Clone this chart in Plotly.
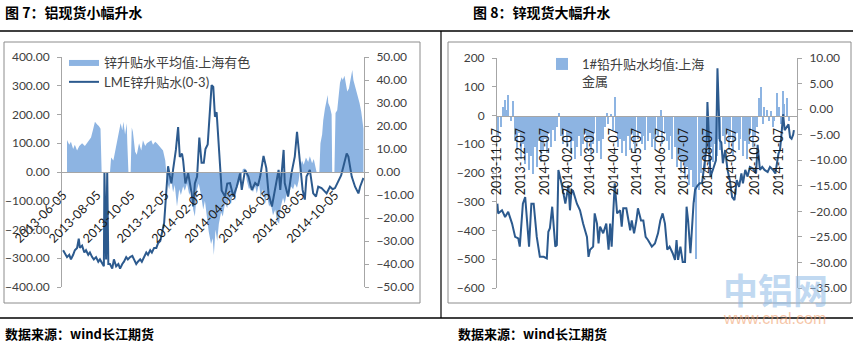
import plotly.graph_objects as go

# ---------------- data ----------------
# Shanghai zinc spot premium (yuan/t), left axis of the first panel
SH_DATES = [
    "2013-06-12", "2013-06-16", "2013-06-19", "2013-06-23", "2013-06-26", "2013-06-30",
    "2013-07-04", "2013-07-09", "2013-07-14", "2013-07-20", "2013-07-25", "2013-07-29",
    "2013-08-01", "2013-08-05", "2013-08-08", "2013-08-11", "2013-08-13", "2013-08-28",
    "2013-08-30", "2013-09-03", "2013-09-06", "2013-09-10", "2013-09-13", "2013-09-16",
    "2013-09-19", "2013-09-21", "2013-09-24", "2013-09-27", "2013-09-28", "2013-09-30",
    "2013-10-04", "2013-10-06", "2013-10-08", "2013-10-12", "2013-10-15", "2013-10-19",
    "2013-10-23", "2013-10-26", "2013-10-30", "2013-11-02", "2013-11-06", "2013-11-10",
    "2013-11-13", "2013-11-17", "2013-11-20", "2013-11-24", "2013-11-27", "2013-12-01",
    "2013-12-05", "2013-12-07", "2013-12-08", "2013-12-12", "2013-12-15", "2013-12-19",
    "2013-12-22", "2013-12-26", "2013-12-30", "2014-01-02", "2014-01-06", "2014-01-09",
    "2014-01-13", "2014-01-17", "2014-01-20", "2014-01-24", "2014-01-27", "2014-01-31",
    "2014-02-03", "2014-02-07", "2014-02-11", "2014-02-14", "2014-02-18", "2014-02-21",
    "2014-02-25", "2014-02-28", "2014-03-02", "2014-03-05", "2014-03-08", "2014-03-11",
    "2014-03-15", "2014-03-18", "2014-03-22", "2014-03-26", "2014-03-29", "2014-04-02",
    "2014-04-05", "2014-04-09", "2014-04-12", "2014-04-16", "2014-04-20", "2014-04-23",
    "2014-04-27", "2014-04-30", "2014-05-04", "2014-05-08", "2014-05-11", "2014-05-15",
    "2014-05-18", "2014-05-22", "2014-05-25", "2014-05-29", "2014-06-02", "2014-06-05",
    "2014-06-09", "2014-06-12", "2014-06-16", "2014-06-20", "2014-06-23", "2014-06-27",
    "2014-06-30", "2014-07-04", "2014-07-07", "2014-07-11", "2014-07-15", "2014-07-18",
    "2014-07-22", "2014-07-25", "2014-07-29", "2014-08-01", "2014-08-04", "2014-08-07",
    "2014-08-10", "2014-08-14", "2014-08-18", "2014-08-21", "2014-08-25", "2014-08-28",
    "2014-08-31", "2014-09-02", "2014-09-07", "2014-09-09", "2014-09-12", "2014-09-14",
    "2014-09-17", "2014-09-20", "2014-09-22", "2014-09-23", "2014-09-26", "2014-09-29",
    "2014-09-30", "2014-10-04", "2014-10-06", "2014-10-09", "2014-10-11", "2014-10-14",
    "2014-10-17", "2014-10-19", "2014-10-22", "2014-10-25", "2014-10-27", "2014-10-30",
    "2014-11-02", "2014-11-05", "2014-11-07", "2014-11-10", "2014-11-12", "2014-11-15",
    "2014-11-18", "2014-11-21", "2014-11-23", "2014-11-25",
]
SH_PREM = [
    111, 95, 105, 80, 95, 75,
    90, 100, 90, 105, 120, 150,
    175, 165, 160, 150, 0, 0,
    50, 40, 70, 110, 140, 170,
    145, 175, 130, 170, 100, 0,
    0, 155, 140, 70, 60, 100,
    75, 110, 90, 100, 105, 110,
    95, 105, 100, 90, 85, 75,
    40, 0, -30, -60, -20, -70,
    -45, -120, -60, -80, -50, -65,
    -40, -80, -60, -130, -155, -60,
    -40, -80, -130, -100, -170, -210,
    -250, -230, -289, -200, -240, -180,
    -140, -155, -110, -125, -90, -110,
    -75, -100, -60, -40, -20, 10,
    12, -30, -60, -45, -70, -50,
    -75, -40, -90, -60, -110, -80,
    -120, -110, -150, -130, -170, -180,
    -120, -90, -110, -70, -80, -50,
    -60, -40, -55, -30, 20, 40,
    25, 50, 35, 55, 30, 45,
    10, 0, 0, 100, 130, 180,
    220, 250, 268, 240, 225, 200,
    0, 0, 205, 215, 250, 310,
    330, 320, 335, 300, 280, 290,
    330, 355, 320, 300, 285, 260,
    240, 210, 180, 150,
]

# LME zinc cash-3M spread (USD/t), right axis of the first panel
LME_DATES = [
    "2013-06-05", "2013-06-09", "2013-06-12", "2013-06-16", "2013-06-19", "2013-06-23",
    "2013-06-26", "2013-06-30", "2013-07-03", "2013-07-05", "2013-07-09", "2013-07-13",
    "2013-07-16", "2013-07-20", "2013-07-23", "2013-07-27", "2013-07-30", "2013-08-03",
    "2013-08-07", "2013-08-10", "2013-08-14", "2013-08-17", "2013-08-18", "2013-08-21",
    "2013-08-23", "2013-08-25", "2013-08-28", "2013-09-01", "2013-09-04", "2013-09-08",
    "2013-09-12", "2013-09-15", "2013-09-19", "2013-09-22", "2013-09-26", "2013-09-29",
    "2013-10-03", "2013-10-07", "2013-10-10", "2013-10-14", "2013-10-17", "2013-10-21",
    "2013-10-24", "2013-10-28", "2013-11-01", "2013-11-04", "2013-11-08", "2013-11-11",
    "2013-11-15", "2013-11-19", "2013-11-22", "2013-11-26", "2013-11-29", "2013-12-03",
    "2013-12-05", "2013-12-08", "2013-12-10", "2013-12-13", "2013-12-16", "2013-12-19",
    "2013-12-24", "2013-12-28", "2013-12-31", "2014-01-04", "2014-01-06", "2014-01-10",
    "2014-01-15", "2014-01-21", "2014-01-24", "2014-01-27", "2014-01-31", "2014-02-04",
    "2014-02-08", "2014-02-12", "2014-02-15", "2014-02-19", "2014-02-22", "2014-02-26",
    "2014-03-01", "2014-03-04", "2014-03-07", "2014-03-10", "2014-03-12", "2014-03-16",
    "2014-03-22", "2014-03-26", "2014-03-31", "2014-04-06", "2014-04-12", "2014-04-18",
    "2014-04-21", "2014-04-27", "2014-05-03", "2014-05-09", "2014-05-15", "2014-05-20",
    "2014-05-24", "2014-05-30", "2014-06-04", "2014-06-08", "2014-06-14", "2014-06-20",
    "2014-06-26", "2014-06-29", "2014-07-05", "2014-07-07", "2014-07-13", "2014-07-19",
    "2014-07-25", "2014-07-29", "2014-08-03", "2014-08-08", "2014-08-12", "2014-08-15",
    "2014-08-21", "2014-08-27", "2014-09-01", "2014-09-05", "2014-09-11", "2014-09-15",
    "2014-09-20", "2014-09-26", "2014-10-01", "2014-10-05", "2014-10-11", "2014-10-16",
    "2014-10-20", "2014-10-23", "2014-10-26", "2014-10-29", "2014-11-01", "2014-11-04",
    "2014-11-10", "2014-11-16", "2014-11-19", "2014-11-25",
]
LME_SPREAD = [
    -34, -36, -37, -36, -38, -36,
    -34, -33, -29, -33, -32, -35,
    -34, -36, -35, -37, -38, -37,
    -39, -38, -40, -41, 0, -38,
    0, -40, -40, -42, -38, -41,
    -40, -42, -40, -39, -37, -38,
    -37, -36.5, -38, -40, -39, -38,
    -39, -37, -35, -36, -34, -35,
    -33, -33, -31, -30, -26, -22,
    -15, -5, 2.5, -1.5, -5, 1,
    9.6, 19.5, 6.5, 8, 5, -5,
    -0.5, -9, -15, -5, -2, 15,
    4, 4, 10, 12, 22, 37.8,
    37, 24, 26, 14, 6.7, -8,
    -10.7, -5, -4.8, -10.7, -6.4, -0.6,
    -7.8, 0.9, -2, -7.8, -4.8, -6,
    -2, 7, 1.7, -9.3, -15, -7.8,
    0.9, -7.8, 9.6, -4.8, -10.7, -0.6,
    6.7, 17.5, 5.2, -7.8, -12, -2,
    0.9, -9.3, -10.7, -6.4, -7, -8,
    -9.3, -6.4, -7.5, -7, -4.2, -1.5,
    2.3, 6, 8.1, 6.7, 2, -2,
    -6.4, -9.3, -6.4, -2.6,
]

# Shanghai 1# lead spot premium (yuan/t), left axis of the second panel
PB_DATES = [
    "2013-11-08", "2013-11-12", "2013-11-14", "2013-11-17", "2013-11-20", "2013-11-21",
    "2013-11-25", "2013-11-27", "2013-11-30", "2013-12-02", "2013-12-05", "2013-12-08",
    "2013-12-10", "2013-12-13", "2013-12-15", "2013-12-18", "2013-12-21", "2013-12-23",
    "2013-12-26", "2013-12-28", "2013-12-31", "2014-01-03", "2014-01-05", "2014-01-08",
    "2014-01-10", "2014-01-13", "2014-01-16", "2014-01-18", "2014-01-21", "2014-01-23",
    "2014-01-26", "2014-01-28", "2014-01-31", "2014-02-03", "2014-02-05", "2014-02-08",
    "2014-02-10", "2014-02-13", "2014-02-16", "2014-02-18", "2014-02-21", "2014-02-23",
    "2014-02-26", "2014-03-01", "2014-03-03", "2014-03-06", "2014-03-08", "2014-03-11",
    "2014-03-13", "2014-03-16", "2014-03-19", "2014-03-21", "2014-03-24", "2014-03-26",
    "2014-03-29", "2014-03-31", "2014-04-03", "2014-04-06", "2014-04-08", "2014-04-10",
    "2014-04-12", "2014-04-15", "2014-04-17", "2014-04-20", "2014-04-23", "2014-04-25",
    "2014-04-28", "2014-04-30", "2014-05-03", "2014-05-05", "2014-05-08", "2014-05-11",
    "2014-05-13", "2014-05-16", "2014-05-18", "2014-05-21", "2014-05-24", "2014-05-26",
    "2014-05-29", "2014-05-31", "2014-06-03", "2014-06-06", "2014-06-07", "2014-06-09",
    "2014-06-12", "2014-06-15", "2014-06-17", "2014-06-20", "2014-06-22", "2014-06-25",
    "2014-06-28", "2014-06-30", "2014-07-03", "2014-07-05", "2014-07-08", "2014-07-11",
    "2014-07-13", "2014-07-16", "2014-07-18", "2014-07-21", "2014-07-23", "2014-07-26",
    "2014-07-29", "2014-07-31", "2014-08-03", "2014-08-05", "2014-08-08", "2014-08-11",
    "2014-08-13", "2014-08-16", "2014-08-18", "2014-08-21", "2014-08-23", "2014-08-26",
    "2014-08-29", "2014-08-31", "2014-09-03", "2014-09-05", "2014-09-08", "2014-09-11",
    "2014-09-13", "2014-09-16", "2014-09-18", "2014-09-21", "2014-09-24", "2014-09-26",
    "2014-09-29", "2014-10-01", "2014-10-04", "2014-10-07", "2014-10-09", "2014-10-12",
    "2014-10-15", "2014-10-17", "2014-10-19", "2014-10-22", "2014-10-25", "2014-10-27",
    "2014-10-30", "2014-11-01", "2014-11-04", "2014-11-07", "2014-11-09", "2014-11-12",
    "2014-11-14", "2014-11-17", "2014-11-20",
]
PB_PREM = [
    -70, -40, 30, 55, 20, 70,
    -20, 50, -90, -120, -60, -150,
    -100, -170, -130, -190, -140, -205,
    -110, -180, -90, -160, -120, -80,
    -130, -60, -110, -50, -90, -40,
    10, -70, -100, -50, -110, -70,
    -130, -90, -150, -110, -70, -140,
    -100, -60, -120, -80, -140, -100,
    -60, -130, -90, -150, -80, -40,
    10, -30, 5, -50, 65, -60,
    -110, -80, -130, -90, -140, -70,
    -120, -60, -100, -130, -80, -60,
    -100, -70, -120, -90, -60, -110,
    -80, -120, -70, -50, 20, -100,
    -60, -90, -120, -70, -150, -110,
    -180, -140, -200, -160, -220, -180,
    -240, -190, -250, -300, -500, -260,
    -200, -150, -190, -130, -170, -110,
    -160, -100, -140, -80, -120, -70,
    -100, -60, -120, -80, -140, -90,
    -60, -120, -80, -140, -90, -150,
    -100, -60, -110, -70, -40, 60,
    100, -30, 30, 20, -20, 15,
    -40, -20, 80, 30, -30, 84,
    40, 60, -20,
]

# LME lead cash-3M spread (USD/t), right axis of the second panel
PBL_DATES = [
    "2013-11-07", "2013-11-08", "2013-11-13", "2013-11-17", "2013-11-21", "2013-11-26",
    "2013-11-30", "2013-12-04", "2013-12-06", "2013-12-10", "2013-12-13", "2013-12-16",
    "2013-12-18", "2013-12-21", "2013-12-24", "2013-12-28", "2014-01-01", "2014-01-06",
    "2014-01-10", "2014-01-12", "2014-01-14", "2014-01-17", "2014-01-21", "2014-01-23",
    "2014-01-25", "2014-01-29", "2014-02-01", "2014-02-03", "2014-02-07", "2014-02-09",
    "2014-02-11", "2014-02-13", "2014-02-18", "2014-02-22", "2014-02-26", "2014-03-03",
    "2014-03-05", "2014-03-07", "2014-03-11", "2014-03-13", "2014-03-16", "2014-03-18",
    "2014-03-20", "2014-03-24", "2014-03-28", "2014-03-31", "2014-04-02", "2014-04-04",
    "2014-04-06", "2014-04-08", "2014-04-11", "2014-04-15", "2014-04-17", "2014-04-19",
    "2014-04-23", "2014-04-28", "2014-04-30", "2014-05-03", "2014-05-06", "2014-05-08",
    "2014-05-12", "2014-05-15", "2014-05-18", "2014-05-21", "2014-05-26", "2014-05-30",
    "2014-06-03", "2014-06-06", "2014-06-09", "2014-06-12", "2014-06-15", "2014-06-18",
    "2014-06-22", "2014-06-25", "2014-06-27", "2014-06-29", "2014-07-02", "2014-07-05",
    "2014-07-08", "2014-07-10", "2014-07-12", "2014-07-15", "2014-07-19", "2014-07-21",
    "2014-07-24", "2014-07-27", "2014-07-30", "2014-08-02", "2014-08-05", "2014-08-06",
    "2014-08-08", "2014-08-10", "2014-08-13", "2014-08-17", "2014-08-19", "2014-08-22",
    "2014-08-24", "2014-08-26", "2014-08-29", "2014-09-01", "2014-09-04", "2014-09-07",
    "2014-09-10", "2014-09-13", "2014-09-16", "2014-09-19", "2014-09-21", "2014-09-24",
    "2014-09-27", "2014-09-30", "2014-10-04", "2014-10-08", "2014-10-10", "2014-10-13",
    "2014-10-16", "2014-10-19", "2014-10-23", "2014-10-26", "2014-10-30", "2014-11-02",
    "2014-11-06", "2014-11-08", "2014-11-10", "2014-11-12", "2014-11-14", "2014-11-17",
    "2014-11-19", "2014-11-21", "2014-11-23", "2014-11-25", "2014-11-26",
]
PBL_SPREAD = [
    -18.5, -20.4, -19.8, -21.1, -20.1, -22.4,
    -25, -25.3, -26.9, -18.5, -17.2, -23,
    -26.9, -18.5, -18.5, -25, -28.9, -28.9,
    -29.2, -24, -23.3, -19.1, -26.9, -26.6,
    -11.9, -14.5, -17.2, -18.5, -14.9, -19.8,
    -15.8, -16, -18.5, -19.8, -22.4, -25,
    -28.9, -27.5, -26.9, -20.4, -22.4, -26.3,
    -23, -24.3, -22.4, -27.5, -22.4, -26.9,
    -20.4, -14.5, -20.4, -19.8, -23, -19.4,
    -19.4, -23.7, -21.8, -24.3, -21.8, -19.4,
    -21.8, -21.8, -25, -25.6, -26.9, -26.3,
    -24.3, -21.8, -20.4, -22.4, -27.5, -26.9,
    -28.2, -29.5, -25.6, -29.5, -26.9, -29.9,
    -29.9, -19.1, -21.8, -28.2, -18.5, -15.8,
    -15, -14.5, -14.5, -11, -7.4, 1.4,
    -7.4, -13.2, -11.9, -10, 8, -6.1,
    -6.5, -10.6, -8, -11.9, -13.9, -17.2,
    -17.8, -13.9, -15.2, -12.6, -14.5, -11.9,
    -13.2, -11.3, -11.6, -12.6, -7, -11.9,
    -11.3, -11.9, -12.3, -11.3, -11.9, -12.6,
    -8.7, -8, -4.8, -1.0, -4.1, -3.3,
    -3, -5.5, -5.8, -5, -4.1,
]

ZN_TICKS = ["2013-06-05", "2013-08-05", "2013-10-05", "2013-12-05", "2014-02-05",
            "2014-04-05", "2014-06-05", "2014-08-05", "2014-10-05"]
PB_TICKS = ["2013-11-07", "2013-12-07", "2014-01-07", "2014-02-07", "2014-03-07",
            "2014-04-07", "2014-05-07", "2014-06-07", "2014-07-07", "2014-08-07",
            "2014-09-07", "2014-10-07", "2014-11-07"]

# ---------------- layout helpers (pixel -> paper) ----------------
W, H = 853, 347


def px(x):
    return x / W


def py(y):
    return 1 - y / H


FILL = "#8db4e2"
LINE = "#2c5a8e"
AXIS = "#a6a6a6"
NUM_FONT = dict(family="Lato, 'Liberation Sans', sans-serif", size=12, color="#404040")
DATE_FONT = dict(family="Lato, 'Liberation Sans', sans-serif", size=12.5, color="#1a1a1a")
CJK = "Lato, 'Noto Sans CJK SC', sans-serif"

fig = go.Figure()

fig.add_trace(go.Scatter(
    x=SH_DATES, y=SH_PREM, name="锌升贴水平均值:上海有色",
    mode="lines", line=dict(width=0, color=FILL), fill="tozeroy", fillcolor=FILL,
    xaxis="x", yaxis="y", legend="legend", legendgroup="g1",
))
fig.add_trace(go.Scatter(
    x=LME_DATES, y=LME_SPREAD, name="LME锌升贴水(0-3)",
    mode="lines", line=dict(width=2, color=LINE),
    xaxis="x", yaxis="y2", legend="legend", legendgroup="g2",
))
fig.add_trace(go.Bar(
    x=PB_DATES, y=PB_PREM, name="1#铅升贴水均值:上海<br>金属",
    marker=dict(color=FILL, line=dict(width=0)), width=1.8 * 86400000,
    xaxis="x2", yaxis="y3", legend="legend2",
))
fig.add_trace(go.Scatter(
    x=PBL_DATES, y=PBL_SPREAD, name="LME铅升贴水(0-3)",
    mode="lines", line=dict(width=2, color=LINE),
    xaxis="x2", yaxis="y4", showlegend=False,
))

common_y = dict(showgrid=False, zeroline=False, showline=True, linecolor=AXIS, linewidth=1,
                ticks="outside", ticklen=4, tickcolor=AXIS, tickfont=NUM_FONT,
                ticklabelstandoff=5, automargin=False)
common_x = dict(type="date", showgrid=False, zeroline=False, showline=True, linecolor=AXIS,
                linewidth=1, ticks="", tickfont=DATE_FONT, tickmode="array", automargin=False)

fig.update_layout(
    width=W, height=H, margin=dict(l=0, r=0, t=0, b=0, autoexpand=False),
    paper_bgcolor="white", plot_bgcolor="rgba(0,0,0,0)",
    font=dict(family=CJK, color="#404040"),
    bargap=0,
    xaxis=dict(common_x, domain=[px(62), px(364)], anchor="free", position=py(172),
               range=["2013-06-03", "2014-11-26"], tickvals=ZN_TICKS, ticktext=ZN_TICKS,
               tickangle=-45, ticklabelstandoff=10),
    yaxis=dict(common_y, domain=[py(287), py(57)], anchor="x", range=[-400, 400],
               dtick=100, tickformat=".2f"),
    yaxis2=dict(common_y, overlaying="y", side="right", anchor="x", range=[-50, 50],
                dtick=10, tickformat=".2f"),
    xaxis2=dict(common_x, domain=[px(497), px(797)], anchor="free", position=py(116),
                range=["2013-11-06 12:00", "2014-11-30"], tickvals=PB_TICKS, ticktext=PB_TICKS,
                tickangle=-90, ticklabelstandoff=6),
    yaxis3=dict(common_y, domain=[py(288), py(58)], anchor="x2", range=[-600, 200],
                dtick=100, tickformat="d"),
    yaxis4=dict(common_y, overlaying="y3", side="right", anchor="x2", range=[-35, 10],
                dtick=5, tickformat=".2f"),
    legend=dict(x=px(64), y=py(47), xanchor="left", yanchor="top", bgcolor="rgba(0,0,0,0)",
                font=dict(family=CJK, size=13, color="#404040"), traceorder="grouped",
                tracegroupgap=0, itemclick=False),
    legend2=dict(x=px(542), y=py(49), xanchor="left", yanchor="top", bgcolor="rgba(0,0,0,0)",
                 font=dict(family=CJK, size=13, color="#404040"), valign="top",
                 itemclick=False),
)

# frames and rules
shapes = [
    dict(type="rect", xref="paper", yref="paper", x0=px(4), x1=px(420), y0=py(303), y1=py(42),
         line=dict(color="#8c8c8c", width=1)),
    dict(type="rect", xref="paper", yref="paper", x0=px(448), x1=px(851), y0=py(303), y1=py(42),
         line=dict(color="#8c8c8c", width=1)),
    dict(type="line", xref="paper", yref="paper", x0=0, x1=1, y0=py(31), y1=py(31),
         line=dict(color="black", width=1.5)),
    dict(type="line", xref="paper", yref="paper", x0=0, x1=1, y0=py(318), y1=py(318),
         line=dict(color="black", width=1.5)),
    dict(type="line", xref="paper", yref="paper", x0=px(441), x1=px(441), y0=py(318), y1=py(31),
         line=dict(color="black", width=1.2)),
]
fig.update_layout(shapes=shapes)

TITLE_FONT = dict(family="'Noto Sans CJK SC', sans-serif", size=14, color="black")
ann = [
    dict(text="<b>图 7：铝现货小幅升水</b>", x=px(3), y=py(12), xanchor="left", yanchor="middle",
         font=TITLE_FONT),
    dict(text="<b>图 8：锌现货大幅升水</b>", x=px(471), y=py(12), xanchor="left", yanchor="middle",
         font=TITLE_FONT),
    dict(text="<b>数据来源：wind长江期货</b>", x=px(3), y=py(333), xanchor="left", yanchor="middle",
         font=dict(TITLE_FONT, size=13)),
    dict(text="<b>数据来源：wind长江期货</b>", x=px(456), y=py(333), xanchor="left", yanchor="middle",
         font=dict(TITLE_FONT, size=13)),
    dict(text="<b>中铝网</b>", x=px(775), y=py(288), xanchor="center", yanchor="middle",
         font=dict(family="'Noto Sans CJK SC', sans-serif", size=35, color="rgba(140,185,230,0.55)")),
    dict(text="www.cnal.com", x=px(774), y=py(318), xanchor="center", yanchor="middle",
         font=dict(family="'Liberation Sans', sans-serif", size=16, color="rgba(240,160,110,0.6)")),
]
for a in ann:
    a.update(xref="paper", yref="paper", showarrow=False)
fig.update_layout(annotations=ann)

fig.write_html("out.html", config={"displayModeBar": False})
